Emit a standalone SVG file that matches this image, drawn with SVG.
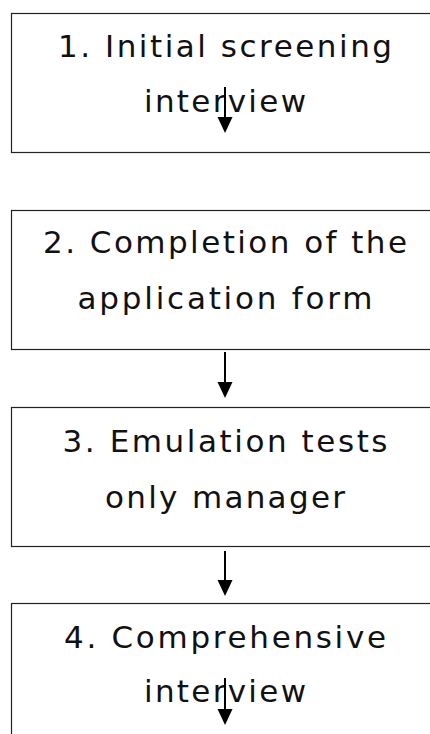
<svg xmlns="http://www.w3.org/2000/svg" width="430" height="734" viewBox="0 0 430 734">
<style>
.box{fill:#fff;stroke:#222;stroke-width:1.2}
.t{font-family:"DejaVu Sans",Verdana,sans-serif;font-size:31px;fill:#111;text-anchor:middle}
.c{stroke:#000;stroke-width:2;fill:none}
</style>
<rect width="430" height="734" fill="#fff"/>
<g id="n1"><rect class="box" x="11.5" y="13.5" width="430" height="139"/>
<text class="t" x="225" y="57" textLength="334" lengthAdjust="spacing">1. Initial screening</text>
<text class="t" x="225" y="112" textLength="162" lengthAdjust="spacing">interview</text></g>
<g id="n2"><rect class="box" x="11.5" y="210.5" width="430" height="139"/>
<text class="t" x="225" y="253" textLength="364" lengthAdjust="spacing">2. Completion of the</text>
<text class="t" x="225" y="309" textLength="295" lengthAdjust="spacing">application form</text></g>
<g id="n3"><rect class="box" x="11.5" y="407.5" width="430" height="139"/>
<text class="t" x="225" y="452" textLength="325" lengthAdjust="spacing">3. Emulation tests</text>
<text class="t" x="225" y="508" textLength="240" lengthAdjust="spacing">only manager</text></g>
<g id="n4"><rect class="box" x="11.5" y="603.5" width="430" height="160"/>
<text class="t" x="225" y="648" textLength="322" lengthAdjust="spacing">4. Comprehensive</text>
<text class="t" x="225" y="702" textLength="162" lengthAdjust="spacing">interview</text></g>
<g id="connectors">
<path d="M225 87 V117" class="c"/><path d="M217.5 117 H232.5 L225 133 Z" fill="#000"/>
<path d="M225 352 V382" class="c"/><path d="M217.5 382 H232.5 L225 398 Z" fill="#000"/>
<path d="M225 551 V580" class="c"/><path d="M217.5 580 H232.5 L225 596 Z" fill="#000"/>
<path d="M225 678 V709" class="c"/><path d="M217.5 709 H232.5 L225 725 Z" fill="#000"/>
</g>
</svg>
